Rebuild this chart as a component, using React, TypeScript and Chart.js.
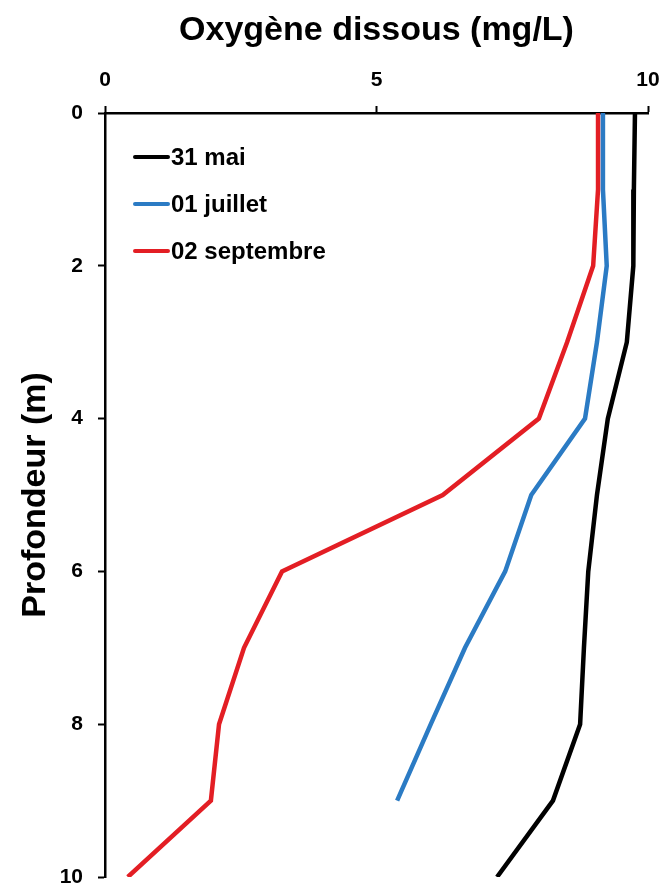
import React, { useEffect, useRef } from "react";
import { Chart, registerables } from "chart.js";

Chart.register(...registerables);

const depths = [0, 1, 2, 3, 4, 5, 6, 7, 8, 9, 10];
const mai = [9.76, 9.74, 9.73, 9.61, 9.26, 9.06, 8.9, 8.82, 8.75, 8.25, 7.22];
const juillet = [9.17, 9.17, 9.24, 9.06, 8.84, 7.85, 7.37, 6.63, 6.0, 5.38];
const septembre = [9.08, 9.08, 8.99, 8.51, 7.99, 6.22, 3.26, 2.56, 2.1, 1.95, 0.42];
const seriesLabels = ["31 mai", "01 juillet", "02 septembre"];
const seriesColors = ["#000000", "#2B7BC4", "#E31E24"];
const xTicks = [0, 5, 10];
const yTicks = [0, 2, 4, 6, 8, 10];

const FONT = "'Liberation Sans', Arial, sans-serif";

const toPoints = (vals: number[]) => vals.map((v, i) => ({ x: v, y: depths[i] }));

const legendPlugin = {
  id: "insideLegend",
  afterDraw(chart: any) {
    const { ctx, chartArea } = chart;
    ctx.save();
    chart.data.datasets.forEach((ds: any, i: number) => {
      const y = chartArea.top + 44 + i * 47;
      const x0 = chartArea.left + 28;
      ctx.strokeStyle = ds.borderColor;
      ctx.lineWidth = 4;
      ctx.lineCap = "round";
      ctx.beginPath();
      ctx.moveTo(x0 + 2, y);
      ctx.lineTo(x0 + 35, y);
      ctx.stroke();
      ctx.fillStyle = "#000";
      ctx.font = `bold 24px ${FONT}`;
      ctx.textBaseline = "middle";
      ctx.textAlign = "left";
      ctx.fillText(ds.label, x0 + 38, y + 1);
    });
    ctx.restore();
  },
};

export default function App() {
  const ref = useRef<HTMLCanvasElement | null>(null);
  useEffect(() => {
    if (!ref.current) return;
    const chart = new Chart(ref.current, {
      type: "scatter",
      data: {
        datasets: [mai, juillet, septembre].map((vals, i) => ({
          label: seriesLabels[i],
          data: toPoints(vals),
          showLine: true,
          borderColor: seriesColors[i],
          backgroundColor: seriesColors[i],
          borderWidth: 4.5,
          pointRadius: 0,
          tension: 0,
        })),
      },
      options: {
        animation: false,
        responsive: false,
        events: [],
        layout: { padding: { right: 19, bottom: 11, top: 0, left: 0 } },
        plugins: { legend: { display: false }, tooltip: { enabled: false } },
        scales: {
          x: {
            type: "linear",
            position: "top",
            min: 0,
            max: 10,
            afterFit: (s: any) => {
              s.height = 113;
              s.paddingLeft = 0;
              s.paddingRight = 0;
            },
            afterBuildTicks: (s: any) => {
              s.ticks = xTicks.map((v) => ({ value: v }));
            },
            ticks: {
              color: "#000",
              padding: 13,
              font: { family: FONT, size: 21, weight: "bold" },
            },
            grid: {
              display: true,
              drawOnChartArea: false,
              drawTicks: true,
              tickLength: 7,
              tickColor: "#000",
              tickWidth: 2,
            },
            border: { display: true, color: "#000", width: 2.5 },
            title: {
              display: true,
              text: "Oxygène dissous (mg/L)",
              color: "#000",
              font: { family: FONT, size: 34, weight: "bold" },
              padding: { top: 10, bottom: 0 },
            },
          },
          y: {
            type: "linear",
            reverse: true,
            min: 0,
            max: 10,
            afterFit: (s: any) => {
              s.width = 105;
              s.paddingTop = 0;
              s.paddingBottom = 0;
            },
            afterBuildTicks: (s: any) => {
              s.ticks = yTicks.map((v) => ({ value: v }));
            },
            ticks: {
              color: "#000",
              padding: 15,
              font: { family: FONT, size: 21, weight: "bold" },
            },
            grid: {
              display: true,
              drawOnChartArea: false,
              drawTicks: true,
              tickLength: 7,
              tickColor: "#000",
              tickWidth: 2,
            },
            border: { display: true, color: "#000", width: 2.5 },
            title: {
              display: true,
              text: "Profondeur (m)",
              color: "#000",
              font: { family: FONT, size: 34, weight: "bold" },
              padding: { top: 15, bottom: 0 },
            },
          },
        },
      },
      plugins: [legendPlugin],
    } as any);
    return () => chart.destroy();
  }, []);
  return (
    <div style={{ position: "fixed", left: 0, top: 0, width: 667, height: 888, background: "#fff" }}>
      <canvas ref={ref} width={667} height={888} style={{ display: "block" }} />
    </div>
  );
}
